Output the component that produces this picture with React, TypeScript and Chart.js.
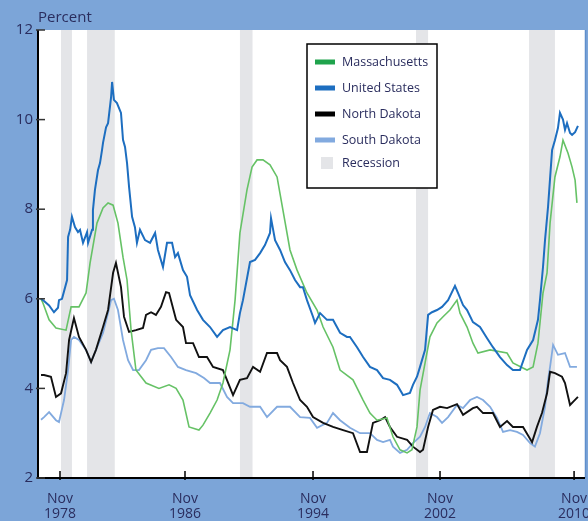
import React, { useEffect, useRef } from "react";
import { Chart, registerables } from "chart.js";

Chart.register(...registerables);

// ---------- data ----------
const yTickValues = [2, 4, 6, 8, 10, 12];
const xTickYears = [1979.94, 1987.38, 1995.0, 2002.56, 2010.54];
const xTickLabels = [
  ["Nov", "1978"],
  ["Nov", "1986"],
  ["Nov", "1994"],
  ["Nov", "2002"],
  ["Nov", "2010"],
];
const recessions = [
  [1980.0, 1980.65],
  [1981.55, 1983.2],
  [1990.65, 1991.4],
  [2001.13, 2001.85],
  [2007.86, 2009.4],
];
const seriesNames = ["Massachusetts", "United States", "North Dakota", "South Dakota"];
const recessionLabel = "Recession";

const massachusetts = [
  [1978.81, 6.0], [1978.93, 5.9], [1979.29, 5.53], [1979.7, 5.35], [1980.3, 5.3], [1980.6, 5.82],
  [1981.07, 5.82], [1981.49, 6.13], [1981.73, 6.8], [1982.14, 7.69], [1982.5, 8.03], [1982.8, 8.14],
  [1983.1, 8.09], [1983.39, 7.69], [1983.69, 6.93], [1983.93, 6.42], [1984.17, 5.3], [1984.46, 4.41],
  [1985.06, 4.12], [1985.83, 4.0], [1986.43, 4.08], [1986.85, 4.0], [1987.26, 3.74], [1987.62, 3.14],
  [1988.21, 3.07], [1988.45, 3.18], [1988.87, 3.45], [1989.29, 3.74], [1989.64, 4.12], [1990.06, 4.86],
  [1990.36, 5.97], [1990.65, 7.47], [1991.07, 8.43], [1991.37, 8.94], [1991.67, 9.1], [1992.02, 9.1],
  [1992.44, 8.99], [1992.86, 8.72], [1993.21, 7.98], [1993.63, 7.09], [1994.05, 6.64], [1994.64, 6.13],
  [1995.24, 5.75], [1995.6, 5.37], [1996.19, 4.92], [1996.61, 4.41], [1997.38, 4.19], [1997.98, 3.74],
  [1998.39, 3.45], [1998.81, 3.29], [1999.4, 3.34], [1999.76, 2.92], [2000.18, 2.63], [2000.6, 2.56],
  [2000.89, 2.63], [2001.19, 3.14], [2001.37, 3.96], [2001.67, 4.57], [2001.96, 5.15], [2002.38, 5.46],
  [2002.74, 5.6], [2003.15, 5.75], [2003.57, 5.97], [2003.75, 5.68], [2004.17, 5.37], [2004.52, 5.01],
  [2004.82, 4.79], [2005.54, 4.86], [2006.55, 4.79], [2006.9, 4.57], [2007.74, 4.41], [2008.1, 4.48],
  [2008.39, 5.01], [2008.69, 6.13], [2008.93, 6.58], [2009.11, 7.69], [2009.4, 8.72], [2009.7, 9.17],
  [2009.88, 9.54], [2010.18, 9.25], [2010.42, 8.94], [2010.6, 8.65], [2010.71, 8.14],
];

const unitedStates = [
  [1978.81, 6.0], [1978.99, 5.95], [1979.29, 5.85], [1979.58, 5.7], [1979.82, 5.8], [1979.88, 5.97],
  [1980.06, 6.0], [1980.36, 6.42], [1980.42, 7.38], [1980.54, 7.54], [1980.65, 7.83], [1980.83, 7.6],
  [1981.01, 7.49], [1981.13, 7.54], [1981.31, 7.25], [1981.55, 7.49], [1981.61, 7.25], [1981.85, 7.54],
  [1981.9, 7.98], [1982.02, 8.43], [1982.2, 8.87], [1982.32, 9.03], [1982.44, 9.32], [1982.5, 9.48],
  [1982.68, 9.83], [1982.8, 9.92], [1982.98, 10.5], [1983.04, 10.84], [1983.15, 10.44], [1983.33, 10.37],
  [1983.57, 10.15], [1983.69, 9.55], [1983.81, 9.39], [1983.93, 9.03], [1984.05, 8.5], [1984.23, 7.83],
  [1984.4, 7.6], [1984.52, 7.25], [1984.7, 7.54], [1985.0, 7.31], [1985.3, 7.25], [1985.6, 7.47],
  [1985.77, 7.09], [1986.07, 6.71], [1986.31, 7.25], [1986.61, 7.25], [1986.79, 6.93], [1986.96, 7.02],
  [1987.26, 6.64], [1987.5, 6.49], [1987.68, 6.08], [1988.1, 5.75], [1988.45, 5.53], [1988.87, 5.37],
  [1989.29, 5.15], [1989.64, 5.3], [1990.06, 5.37], [1990.48, 5.3], [1990.65, 5.68], [1990.83, 5.97],
  [1991.25, 6.82], [1991.55, 6.87], [1991.85, 7.02], [1992.14, 7.2], [1992.44, 7.47], [1992.5, 7.8],
  [1992.74, 7.31], [1993.04, 7.09], [1993.33, 6.82], [1993.63, 6.64], [1993.93, 6.42], [1994.23, 6.26],
  [1994.4, 6.26], [1994.64, 5.97], [1995.0, 5.6], [1995.12, 5.46], [1995.42, 5.68], [1995.83, 5.53],
  [1996.19, 5.53], [1996.61, 5.24], [1997.02, 5.15], [1997.2, 5.15], [1997.62, 4.92], [1997.98, 4.7],
  [1998.39, 4.48], [1998.81, 4.41], [1999.17, 4.23], [1999.58, 4.19], [2000.0, 4.08], [2000.36, 3.85],
  [2000.77, 3.9], [2000.95, 4.08], [2001.19, 4.26], [2001.37, 4.48], [2001.67, 4.86], [2001.85, 5.64],
  [2002.08, 5.7], [2002.38, 5.75], [2002.68, 5.82], [2003.04, 5.97], [2003.45, 6.29], [2003.63, 6.13],
  [2003.93, 5.86], [2004.17, 5.75], [2004.52, 5.48], [2004.94, 5.37], [2005.36, 5.12], [2005.71, 4.92],
  [2006.13, 4.7], [2006.55, 4.52], [2006.9, 4.41], [2007.32, 4.41], [2007.74, 4.86], [2008.1, 5.08],
  [2008.39, 5.53], [2008.51, 5.97], [2008.69, 6.71], [2008.81, 7.31], [2008.99, 8.05], [2009.23, 9.32],
  [2009.4, 9.54], [2009.58, 9.81], [2009.7, 10.15], [2009.88, 10.0], [2010.0, 9.77], [2010.12, 9.92],
  [2010.3, 9.7], [2010.42, 9.66], [2010.6, 9.72], [2010.77, 9.86],
];

const northDakota = [
  [1978.81, 4.3], [1978.99, 4.3], [1979.4, 4.26], [1979.7, 3.81], [1980.0, 3.89], [1980.3, 4.34],
  [1980.48, 5.08], [1980.77, 5.57], [1981.07, 5.15], [1981.49, 4.86], [1981.79, 4.59], [1982.08, 4.86],
  [1982.5, 5.37], [1982.8, 5.75], [1983.1, 6.58], [1983.27, 6.8], [1983.57, 6.26], [1983.75, 5.6],
  [1984.05, 5.26], [1984.46, 5.3], [1984.88, 5.35], [1985.06, 5.64], [1985.36, 5.7], [1985.65, 5.64],
  [1985.95, 5.82], [1986.25, 6.15], [1986.43, 6.13], [1986.85, 5.53], [1987.26, 5.37], [1987.44, 5.01],
  [1987.86, 5.01], [1988.21, 4.7], [1988.69, 4.7], [1989.05, 4.48], [1989.64, 4.41], [1990.24, 3.85],
  [1990.65, 4.19], [1991.07, 4.23], [1991.43, 4.48], [1991.85, 4.37], [1992.26, 4.79], [1992.86, 4.79],
  [1993.04, 4.63], [1993.45, 4.48], [1993.81, 4.12], [1994.23, 3.74], [1994.64, 3.59], [1995.0, 3.36],
  [1995.6, 3.23], [1996.19, 3.14], [1996.79, 3.07], [1997.38, 3.0], [1997.8, 2.58], [1998.21, 2.58],
  [1998.57, 3.23], [1998.99, 3.29], [1999.29, 3.36], [1999.58, 3.14], [2000.0, 2.92], [2000.6, 2.85],
  [2000.95, 2.7], [2001.37, 2.58], [2001.55, 2.63], [2001.85, 3.14], [2002.14, 3.52], [2002.56, 3.59],
  [2002.98, 3.56], [2003.57, 3.65], [2003.93, 3.41], [2004.52, 3.56], [2004.76, 3.59], [2005.12, 3.45],
  [2005.71, 3.45], [2006.13, 3.14], [2006.55, 3.27], [2006.9, 3.14], [2007.5, 3.14], [2008.04, 2.8],
  [2008.33, 3.14], [2008.63, 3.45], [2008.93, 3.89], [2009.11, 4.37], [2009.4, 4.34], [2009.82, 4.26],
  [2010.0, 4.12], [2010.3, 3.63], [2010.48, 3.7], [2010.77, 3.81],
];

const southDakota = [
  [1978.81, 3.3], [1978.99, 3.36], [1979.29, 3.47], [1979.7, 3.29], [1979.88, 3.25], [1980.18, 3.74],
  [1980.42, 4.41], [1980.6, 5.08], [1980.77, 5.15], [1981.07, 5.08], [1981.49, 4.86], [1981.79, 4.59],
  [1982.08, 4.86], [1982.5, 5.24], [1982.8, 5.68], [1982.98, 5.97], [1983.15, 6.0], [1983.39, 5.75],
  [1983.69, 5.08], [1983.99, 4.63], [1984.29, 4.41], [1984.64, 4.41], [1985.06, 4.63], [1985.36, 4.86],
  [1985.77, 4.9], [1986.13, 4.9], [1986.55, 4.7], [1986.96, 4.48], [1987.44, 4.41], [1988.04, 4.34],
  [1988.51, 4.23], [1988.87, 4.12], [1989.46, 4.12], [1989.88, 3.81], [1990.24, 3.67], [1990.83, 3.67],
  [1991.25, 3.59], [1991.85, 3.59], [1992.26, 3.36], [1992.86, 3.59], [1993.63, 3.59], [1994.23, 3.36],
  [1994.82, 3.34], [1995.24, 3.12], [1995.83, 3.23], [1996.19, 3.45], [1996.61, 3.29], [1997.2, 3.12],
  [1997.8, 3.0], [1998.39, 3.0], [1998.81, 2.85], [1999.17, 2.8], [1999.58, 2.85], [1999.76, 2.7],
  [2000.18, 2.56], [2000.6, 2.63], [2000.95, 2.78], [2001.37, 2.92], [2001.67, 3.14], [2001.96, 3.45],
  [2002.38, 3.36], [2002.68, 3.23], [2003.04, 3.36], [2003.57, 3.63], [2003.93, 3.56], [2004.35, 3.74],
  [2004.76, 3.81], [2005.12, 3.74], [2005.54, 3.59], [2005.95, 3.34], [2006.31, 3.03], [2006.73, 3.07],
  [2007.14, 3.03], [2007.5, 2.96], [2007.92, 2.78], [2008.21, 2.7], [2008.51, 3.0], [2008.81, 3.59],
  [2008.99, 4.19], [2009.11, 4.48], [2009.29, 4.97], [2009.58, 4.75], [2010.0, 4.79], [2010.3, 4.48],
  [2010.71, 4.48],
];

// ---------- styles ----------
const BG = "#7ca5d8";
const TEXT = "#2a2d5e";
const FONT = "'Open Sans', 'DejaVu Sans', sans-serif";
const lineColors = ["#66c266", "#1d6ec0", "#111111", "#82aadf"];
const legendColors = ["#1fa34c", "#1d6ec0", "#000000", "#82aadf"];
const lineWidths = [1.6, 2.0, 1.9, 1.8];
const drawOrder = [1, 0, 2, 3];
const RECESSION_COLOR = "#e4e5e8";

const toXY = (arr: number[][]) => arr.map(([x, y]) => ({ x, y }));

const decorPlugin = {
  id: "decor",
  beforeDatasetsDraw(chart: any) {
    const { ctx, chartArea: a, scales } = chart;
    const xs = scales.x;
    ctx.save();
    ctx.fillStyle = "#ffffff";
    ctx.fillRect(a.left, a.top, a.right - a.left, a.bottom - a.top);
    ctx.fillStyle = RECESSION_COLOR;
    for (const [s, e] of recessions) {
      const x0 = xs.getPixelForValue(s);
      const x1 = xs.getPixelForValue(e);
      ctx.fillRect(x0, a.top, x1 - x0, a.bottom - a.top);
    }
    ctx.restore();
  },
  afterDatasetsDraw(chart: any) {
    const { ctx, chartArea: a, scales } = chart;
    const xs = scales.x;
    const ys = scales.y;
    ctx.save();
    // right edge line
    ctx.strokeStyle = "#5f8fcc";
    ctx.lineWidth = 1.5;
    ctx.beginPath();
    ctx.moveTo(a.right + 0.5, a.top);
    ctx.lineTo(a.right + 0.5, a.bottom);
    ctx.stroke();
    // axes
    ctx.strokeStyle = "#000";
    ctx.lineWidth = 2;
    ctx.beginPath();
    ctx.moveTo(a.left, a.top);
    ctx.lineTo(a.left, a.bottom);
    ctx.lineTo(a.right, a.bottom);
    ctx.stroke();
    // y ticks (inward)
    ctx.lineWidth = 1.5;
    ctx.strokeStyle = "#333";
    for (const v of yTickValues) {
      const py = ys.getPixelForValue(v);
      ctx.beginPath();
      ctx.moveTo(a.left - 2, py);
      ctx.lineTo(a.left + 7, py);
      ctx.stroke();
    }
    // x ticks
    ctx.strokeStyle = "#000";
    for (const v of xTickYears) {
      const px = xs.getPixelForValue(v);
      ctx.beginPath();
      ctx.moveTo(px, a.bottom - 7);
      ctx.lineTo(px, a.bottom + 2);
      ctx.stroke();
    }
    // title
    ctx.fillStyle = TEXT;
    ctx.font = `15px ${FONT}`;
    ctx.textAlign = "left";
    ctx.textBaseline = "middle";
    ctx.fillText("Percent", a.left, 18);

    // legend
    const bx = 307, by = 44, bw = 130, bh = 144;
    ctx.fillStyle = "#fff";
    ctx.fillRect(bx, by, bw, bh);
    ctx.strokeStyle = "#000";
    ctx.lineWidth = 1.5;
    ctx.strokeRect(bx, by, bw, bh);
    ctx.font = `12.5px ${FONT}`;
    ctx.textBaseline = "middle";
    const rowY = [62, 88, 114, 140];
    seriesNames.forEach((name, i) => {
      ctx.fillStyle = legendColors[i];
      ctx.fillRect(315, rowY[i] - 2.5, 20, 5);
      ctx.fillStyle = TEXT;
      ctx.fillText(name, 342, rowY[i]);
    });
    ctx.fillStyle = RECESSION_COLOR;
    ctx.fillRect(321, 157, 12, 12);
    ctx.fillStyle = TEXT;
    ctx.fillText(recessionLabel, 342, 163);
    ctx.restore();
  },
};

export default function App() {
  const ref = useRef<HTMLCanvasElement | null>(null);
  useEffect(() => {
    document.body.style.margin = "0";
    const canvas = ref.current;
    if (!canvas) return;
    const series = [massachusetts, unitedStates, northDakota, southDakota];
    const chart = new Chart(canvas, {
      type: "line",
      data: {
        datasets: series.map((s, i) => ({
          label: seriesNames[i],
          data: toXY(s),
          borderColor: lineColors[i],
          backgroundColor: lineColors[i],
          borderWidth: lineWidths[i],
          pointRadius: 0,
          tension: 0,
          fill: false,
          order: drawOrder[i],
        })),
      },
      options: {
        animation: false,
        responsive: false,
        devicePixelRatio: 1,
        layout: { autoPadding: false, padding: { top: 30, right: 3, left: 0, bottom: 0 } },
        plugins: {
          legend: { display: false },
          tooltip: { enabled: false },
          title: { display: false },
        },
        scales: {
          x: {
            type: "linear",
            min: 1978.63,
            max: 2011.19,
            grid: { display: false, drawTicks: false },
            border: { display: false },
            afterBuildTicks: (scale: any) => {
              scale.ticks = xTickYears.map((v) => ({ value: v }));
            },
            afterFit: (scale: any) => {
              scale.height = 43;
              scale.paddingLeft = 0;
              scale.paddingRight = 0;
            },
            ticks: {
              autoSkip: false,
              maxRotation: 0,
              padding: 14,
              color: TEXT,
              font: { family: FONT, size: 14, lineHeight: 1.05 },
              callback: (_v: any, idx: number) => xTickLabels[idx],
            },
          },
          y: {
            min: 2,
            max: 12,
            grid: { display: false, drawTicks: false },
            border: { display: false },
            afterBuildTicks: (scale: any) => {
              scale.ticks = yTickValues.map((v) => ({ value: v }));
            },
            afterFit: (scale: any) => {
              scale.width = 38;
              scale.paddingTop = 0;
              scale.paddingBottom = 0;
            },
            ticks: {
              padding: 5,
              color: TEXT,
              font: { family: FONT, size: 15 },
              callback: (v: any) => String(v),
            },
          },
        },
      },
      plugins: [decorPlugin],
    } as any);
    return () => chart.destroy();
  }, []);
  return (
    <div style={{ position: "fixed", left: 0, top: 0, width: 588, height: 521, background: BG }}>
      <canvas ref={ref} width={588} height={521} style={{ display: "block", width: 588, height: 521 }} />
    </div>
  );
}
